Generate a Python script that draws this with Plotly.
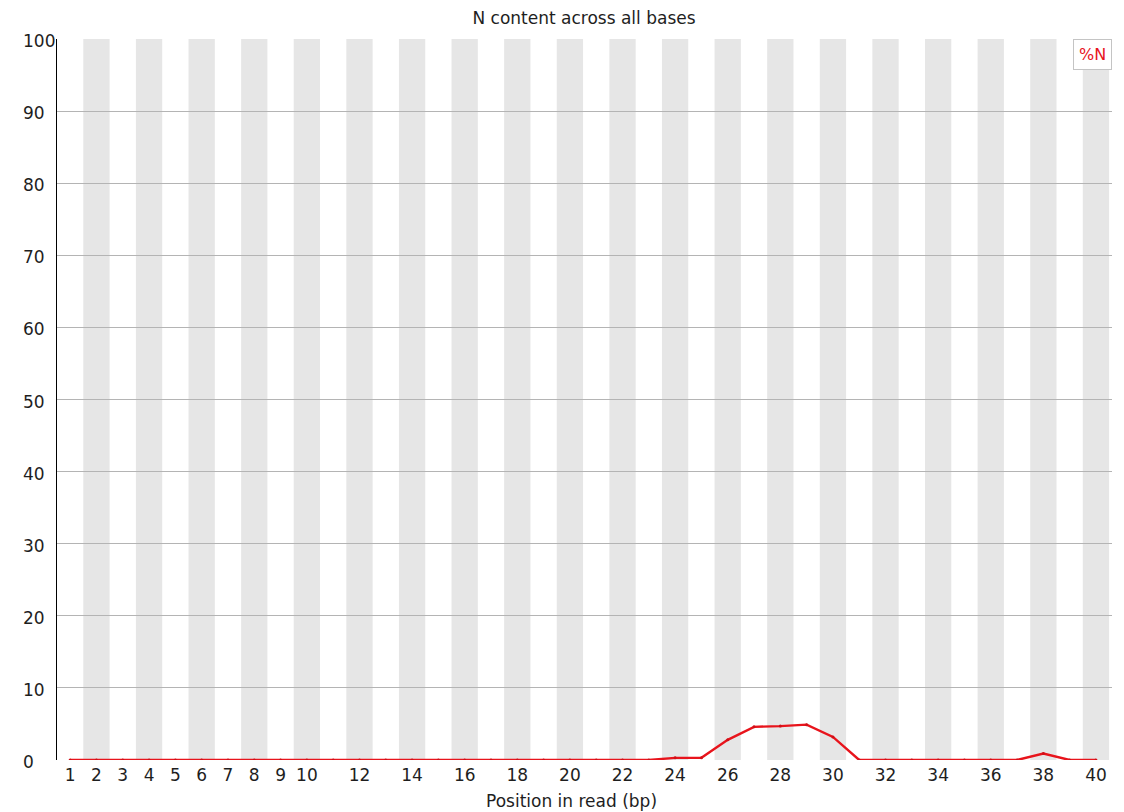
import plotly.graph_objects as go

# Per-base N content (%) for read positions 1..40
positions = list(range(1, 41))
n_percent = [0.0] * 22 + [0.0, 0.3, 0.3, 2.8, 4.6, 4.7, 4.9, 3.2, 0.0,
                          0.0, 0.0, 0.0, 0.0, 0.0, 0.0, 0.9, 0.0, 0.0]
tick_positions = list(range(1, 11)) + list(range(12, 41, 2))
tick_labels = [str(v) for v in tick_positions]
y_ticks = list(range(0, 101, 10))

FONT = "DejaVu Sans"
TEXT = "#1e1e1e"
RED = "#e8141c"

fig = go.Figure()

# alternating grey bands behind every second position
shapes = []
for p in positions:
    if p % 2 == 0:
        shapes.append(dict(type="rect", xref="x", yref="y",
                           x0=p - 0.5, x1=p + 0.5, y0=0, y1=100,
                           fillcolor="#e6e6e6", line=dict(width=0),
                           layer="below"))

fig.add_trace(go.Scatter(
    x=positions, y=n_percent, mode="lines+markers", name="%N",
    line=dict(color=RED, width=2.4),
    marker=dict(size=3, color="#d01018"),
    showlegend=False,
))

annotations = [
    # legend box
    dict(text="%N", xref="paper", yref="paper", x=1.0, y=1.0,
         xanchor="right", yanchor="top", showarrow=False,
         font=dict(size=16, color=RED),
         bordercolor="#c4c4c4", borderwidth=1, borderpad=5, bgcolor="white"),
    # x axis title
    dict(text="Position in read (bp)", xref="paper", yref="paper",
         x=0.488, y=-0.0569, xanchor="center", yanchor="middle",
         showarrow=False, font=dict(size=17, color=TEXT)),
]
# left-aligned y tick labels
for v in y_ticks:
    annotations.append(dict(text=str(v), xref="paper", yref="y",
                            x=-0.0341, y=v, xanchor="left", yanchor="middle",
                            yshift=-2, showarrow=False,
                            font=dict(size=17, color=TEXT)))

fig.update_layout(
    width=1124, height=812,
    margin=dict(l=57, r=12, t=39, b=52),
    paper_bgcolor="white", plot_bgcolor="white",
    font=dict(family=FONT, size=17, color=TEXT),
    title=dict(text="N content across all bases", x=0.5196, xanchor="center",
               y=0.978, yanchor="middle", font=dict(size=17, color=TEXT)),
    shapes=shapes,
    annotations=annotations,
    xaxis=dict(range=[0.5, 40.61], tickmode="array", tickvals=tick_positions,
               ticktext=tick_labels, showgrid=False, zeroline=False,
               showline=False, ticks="", ticklabelstandoff=3,
               tickfont=dict(size=17, color=TEXT)),
    yaxis=dict(range=[0, 100], tickvals=y_ticks, showgrid=True,
               gridcolor="#b4b4b4", gridwidth=1, zeroline=False,
               showline=True, linecolor="#000000", linewidth=1,
               ticks="", showticklabels=False),
)

fig.write_html("out.html")
